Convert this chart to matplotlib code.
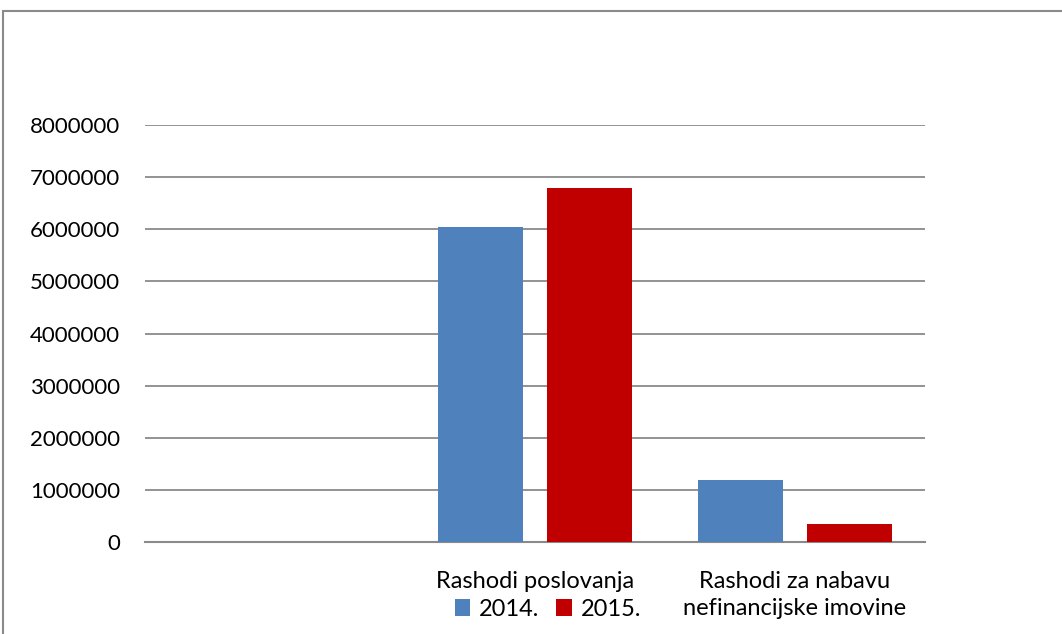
import numpy as np
import matplotlib.pyplot as plt
from matplotlib.patches import Rectangle

# Data
categories = ["", "Rashodi poslovanja", "Rashodi za nabavu\nnefinancijske imovine"]
series_names = ["2014.", "2015."]
values_2014 = [0, 6050000, 1190000]
values_2015 = [0, 6800000, 340000]
yticks = [0, 1000000, 2000000, 3000000, 4000000, 5000000, 6000000, 7000000, 8000000]

colors = ["#4f81bd", "#c00000"]
plt.rcParams['font.family'] = ['Lato', 'DejaVu Sans']

fig = plt.figure(figsize=(10.62, 6.34), dpi=100)
ax = fig.add_axes([145/1062, 1 - 542/634, 780/1062, (542 - 125)/634])

x = np.arange(len(categories))
width = 0.327
offset = 0.208
b1 = ax.bar(x - offset, values_2014, width, color=colors[0], label=series_names[0], zorder=3)
b2 = ax.bar(x + offset, values_2015, width, color=colors[1], label=series_names[1], zorder=3)

ax.set_xlim(-0.5, 2.5)
ax.set_ylim(0, 8000000)
ax.set_yticks(yticks)
ax.set_yticklabels([str(v) for v in yticks], fontsize=16)
ax.set_xticks(x)
ax.set_xticklabels(categories, fontsize=17, linespacing=1.35, va='top')
ax.tick_params(axis='x', length=0, pad=21)
ax.tick_params(axis='y', length=0, pad=18)
ax.yaxis.grid(True, color="#8a8a8a", linewidth=1.3, zorder=0)
ax.set_axisbelow(True)
for s in ["left", "right", "top"]:
    ax.spines[s].set_visible(False)
ax.spines["bottom"].set_color("#8a8a8a")
ax.spines["bottom"].set_linewidth(1.5)

fig.legend(handles=[b1, b2], loc="center", bbox_to_anchor=(548/1062, 1 - 609/634),
           ncol=2, frameon=False, fontsize=17, handlelength=0.65, handleheight=0.75,
           handletextpad=0.4, columnspacing=0.7)

# outer chart frame (cropped at right and bottom)
fig.patches.append(Rectangle((3/1062, -0.05), 1.1, 1 - 11/634 + 0.05,
                             transform=fig.transFigure, fill=False,
                             edgecolor="#8a8a8a", linewidth=1.5))

fig.savefig("out.png", dpi=100)
